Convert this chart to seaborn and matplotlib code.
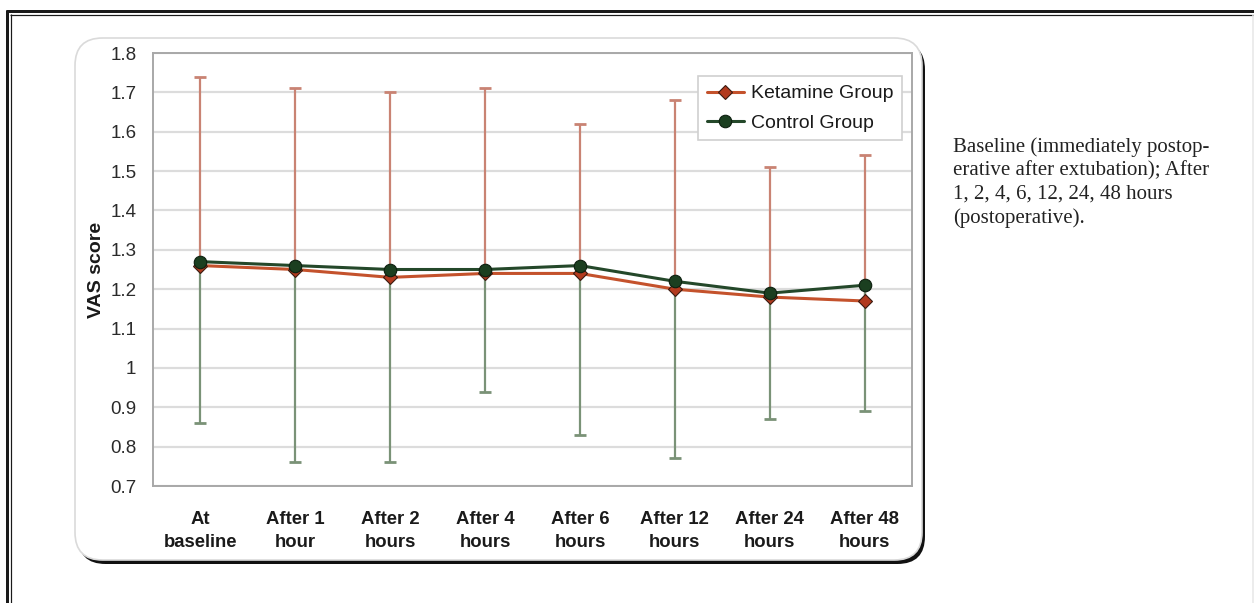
import numpy as np
import pandas as pd
import matplotlib
matplotlib.use("Agg")
import matplotlib.pyplot as plt
import seaborn as sns
from matplotlib.patches import FancyBboxPatch
from matplotlib.lines import Line2D

# Time points and VAS scores (mean, SD) for both groups
time_labels = ["At\nbaseline", "After 1\nhour", "After 2\nhours", "After 4\nhours",
               "After 6\nhours", "After 12\nhours", "After 24\nhours", "After 48\nhours"]
ketamine_mean = [1.26, 1.25, 1.23, 1.24, 1.24, 1.20, 1.18, 1.17]
ketamine_sd = [0.48, 0.46, 0.47, 0.47, 0.38, 0.48, 0.33, 0.37]
control_mean = [1.27, 1.26, 1.25, 1.25, 1.26, 1.22, 1.19, 1.21]
control_sd = [0.41, 0.50, 0.49, 0.31, 0.43, 0.45, 0.32, 0.32]
y_ticks = [0.7, 0.8, 0.9, 1.0, 1.1, 1.2, 1.3, 1.4, 1.5, 1.6, 1.7, 1.8]
y_tick_labels = ["0.7", "0.8", "0.9", "1", "1.1", "1.2", "1.3", "1.4", "1.5", "1.6", "1.7", "1.8"]
note_text = ("Baseline (immediately postop-\nerative after extubation); After\n"
             "1, 2, 4, 6, 12, 24, 48 hours\n(postoperative).")

KET_LINE = "#c4522c"
KET_MARK = "#b23a1e"
KET_ERR = "#c98373"
CON_LINE = "#24482a"
CON_MARK = "#1b3f20"
CON_ERR = "#7a9277"

W, H = 1254, 603
sns.set_theme(style="white")
plt.rcParams["font.family"] = ["Liberation Sans", "DejaVu Sans"]

fig = plt.figure(figsize=(W / 100, H / 100), dpi=100)
fig.patch.set_facecolor("white")


def fx(px):
    return px / W


def fy(py):
    return 1 - py / H


# Page frame (double rule on top and left)
for (x0, y0, x1, y1, lw, c) in [
    (6, 10.5, W, 10.5, 3.0, "#1a1a1a"),
    (10, 14.5, W, 14.5, 1.2, "#1a1a1a"),
    (7, 10, 7, H, 3.0, "#1a1a1a"),
    (10.5, 14, 10.5, H, 1.2, "#1a1a1a"),
    (W - 1.5, 15, W - 1.5, H, 1.5, "#e6e6e6"),
]:
    fig.add_artist(Line2D([fx(x0), fx(x1)], [fy(y0), fy(y1)], lw=lw * 0.72, color=c,
                          transform=fig.transFigure, solid_capstyle="butt"))

# Rounded chart panel with a dark drop shadow
bx0, by0, bx1, by1 = 75, 38, 922, 560
shadow = FancyBboxPatch((fx(bx0 + 3), fy(by1 + 4)), fx(bx1 - bx0), (by1 - by0) / H,
                        boxstyle="round,pad=0,rounding_size=0.022", transform=fig.transFigure,
                        facecolor="#111111", edgecolor="none", zorder=0,
                        mutation_aspect=W / H)
panel = FancyBboxPatch((fx(bx0), fy(by1)), fx(bx1 - bx0), (by1 - by0) / H,
                       boxstyle="round,pad=0,rounding_size=0.022", transform=fig.transFigure,
                       facecolor="white", edgecolor="#dadada", lw=1.2, zorder=0.1,
                       mutation_aspect=W / H)
fig.add_artist(shadow)
fig.add_artist(panel)

ax = fig.add_axes([fx(153), fy(486), fx(912 - 153), (486 - 53) / H])
ax.set_facecolor("none")
ax.set_zorder(2)

x = np.arange(len(time_labels))
df = pd.DataFrame({
    "x": np.concatenate([x, x]),
    "VAS": ketamine_mean + control_mean,
    "group": ["Ketamine Group"] * len(x) + ["Control Group"] * len(x),
})

# One-sided SD bars: ketamine upward, control downward
ax.errorbar(x, ketamine_mean, yerr=[np.zeros(len(x)), ketamine_sd], fmt="none",
            ecolor=KET_ERR, elinewidth=1.6, capsize=4, capthick=2.0, zorder=2)
ax.errorbar(x, control_mean, yerr=[control_sd, np.zeros(len(x))], fmt="none",
            ecolor=CON_ERR, elinewidth=1.6, capsize=4, capthick=2.0, zorder=2)

sns.lineplot(data=df[df.group == "Ketamine Group"], x="x", y="VAS", ax=ax,
             color=KET_LINE, lw=2.2, marker="D", markersize=7,
             markerfacecolor=KET_MARK, markeredgecolor="#3a1a10", markeredgewidth=0.8,
             label="Ketamine Group", zorder=4)
sns.lineplot(data=df[df.group == "Control Group"], x="x", y="VAS", ax=ax,
             color=CON_LINE, lw=2.2, marker="o", markersize=9,
             markerfacecolor=CON_MARK, markeredgecolor="#0d1f0f", markeredgewidth=0.8,
             label="Control Group", zorder=5)

ax.set_xlim(-0.5, len(x) - 0.5)
ax.set_ylim(0.7, 1.8)
ax.set_yticks(y_ticks)
ax.set_yticklabels(y_tick_labels, fontsize=13.5, color="#2a2a2a")
ax.set_xticks(x)
ax.set_xticklabels(time_labels, fontsize=13.3, fontweight="bold", color="#1a1a1a",
                   linespacing=1.45)
ax.set_xticks(np.arange(-0.5, len(x)), minor=True)
ax.tick_params(axis="x", which="major", length=0, pad=18)
ax.tick_params(axis="x", which="minor", length=6, width=1.2, color="#aaaaaa", direction="out")
ax.tick_params(axis="y", length=6, width=1.2, color="#aaaaaa", direction="out", pad=6)
ax.set_xlabel("")
ax.set_ylabel("VAS score", fontsize=14, fontweight="bold", color="#1a1a1a", labelpad=4)

ax.grid(axis="y", color="#dcdcdc", lw=1.6)
ax.grid(axis="x", visible=False)
ax.set_axisbelow(True)
for side in ["left", "bottom", "top", "right"]:
    ax.spines[side].set_color("#a8a8a8")
    ax.spines[side].set_linewidth(1.4)
    ax.spines[side].set_visible(True)

leg = ax.legend(loc="upper left", bbox_to_anchor=(fx(698), fy(76)),
                bbox_transform=fig.transFigure, fontsize=14, frameon=True,
                fancybox=False, edgecolor="#d0d0d0", framealpha=1, borderpad=0.45,
                handlelength=1.9, handletextpad=0.35, labelspacing=0.6,
                borderaxespad=0)
leg.get_frame().set_linewidth(1.2)
for t in leg.get_texts():
    t.set_color("#1a1a1a")

fig.text(fx(953), fy(137), note_text, ha="left", va="top", fontsize=15,
         family=["Liberation Serif", "DejaVu Serif"], color="#222222", linespacing=1.3)

fig.savefig("out.png", dpi=100, facecolor="white")
